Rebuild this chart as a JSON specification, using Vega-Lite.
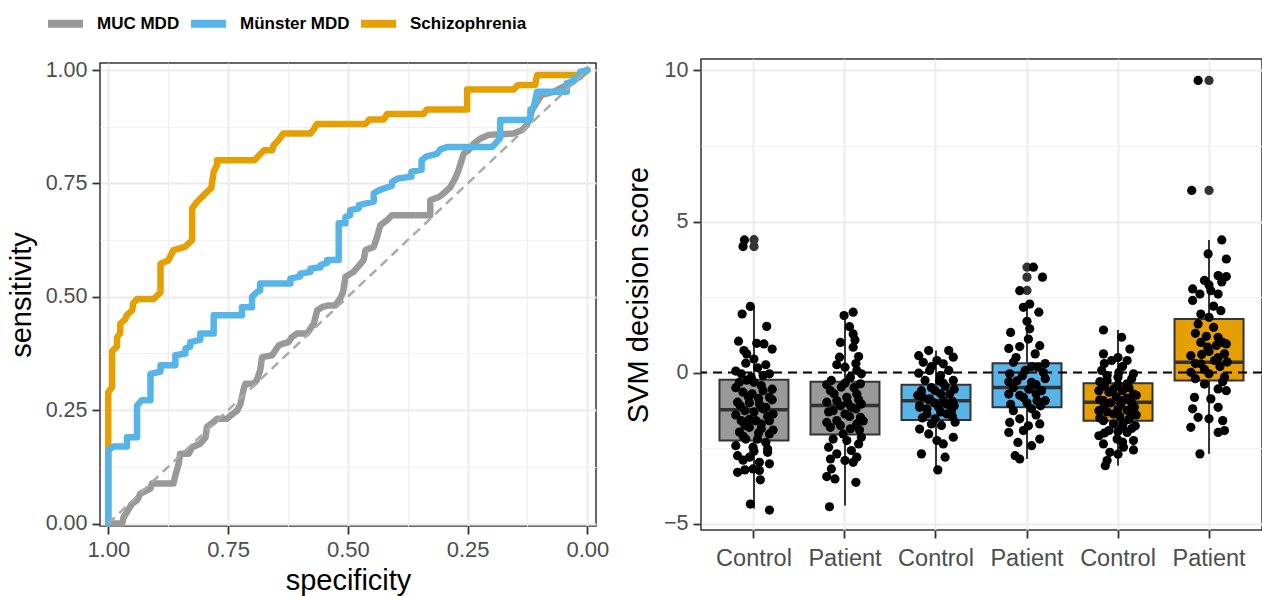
{
  "$schema": "https://vega.github.io/schema/vega-lite/v6.json",
  "background": "white",
  "padding": {"left": 6, "top": 2, "right": 0, "bottom": 0},
  "config": {
    "font": "Liberation Sans",
    "view": {"stroke": "#333333", "strokeWidth": 1.5},
    "axis": {
      "domain": false, "tickColor": "#333333", "tickWidth": 1.8, "tickSize": 8,
      "labelColor": "#4D4D4D", "labelFontSize": 21.5, "labelFont": "Liberation Sans",
      "titleFont": "Liberation Sans", "titleFontSize": 29, "titleFontWeight": "normal",
      "titleColor": "#000000", "gridColor": "#EBEBEB", "gridWidth": 1.8, "labelPadding": 5
    }
  },
  "spacing": 105,
  "bounds": "flush",
  "center": true,
  "datasets": {
    "roc": [
      {"dataset": "MUC MDD", "specificity": 1.0, "sensitivity": 0},
      {"dataset": "MUC MDD", "specificity": 0.971, "sensitivity": 0},
      {"dataset": "MUC MDD", "specificity": 0.968, "sensitivity": 0.014},
      {"dataset": "MUC MDD", "specificity": 0.961, "sensitivity": 0.025},
      {"dataset": "MUC MDD", "specificity": 0.951, "sensitivity": 0.043},
      {"dataset": "MUC MDD", "specificity": 0.94, "sensitivity": 0.051},
      {"dataset": "MUC MDD", "specificity": 0.933, "sensitivity": 0.066},
      {"dataset": "MUC MDD", "specificity": 0.912, "sensitivity": 0.077},
      {"dataset": "MUC MDD", "specificity": 0.909, "sensitivity": 0.088},
      {"dataset": "MUC MDD", "specificity": 0.864, "sensitivity": 0.088},
      {"dataset": "MUC MDD", "specificity": 0.86, "sensitivity": 0.106},
      {"dataset": "MUC MDD", "specificity": 0.853, "sensitivity": 0.132},
      {"dataset": "MUC MDD", "specificity": 0.85, "sensitivity": 0.154},
      {"dataset": "MUC MDD", "specificity": 0.832, "sensitivity": 0.154},
      {"dataset": "MUC MDD", "specificity": 0.825, "sensitivity": 0.168},
      {"dataset": "MUC MDD", "specificity": 0.808, "sensitivity": 0.176},
      {"dataset": "MUC MDD", "specificity": 0.797, "sensitivity": 0.19},
      {"dataset": "MUC MDD", "specificity": 0.794, "sensitivity": 0.213},
      {"dataset": "MUC MDD", "specificity": 0.78, "sensitivity": 0.224},
      {"dataset": "MUC MDD", "specificity": 0.773, "sensitivity": 0.231},
      {"dataset": "MUC MDD", "specificity": 0.752, "sensitivity": 0.231},
      {"dataset": "MUC MDD", "specificity": 0.745, "sensitivity": 0.238},
      {"dataset": "MUC MDD", "specificity": 0.731, "sensitivity": 0.249},
      {"dataset": "MUC MDD", "specificity": 0.724, "sensitivity": 0.264},
      {"dataset": "MUC MDD", "specificity": 0.718, "sensitivity": 0.294},
      {"dataset": "MUC MDD", "specificity": 0.714, "sensitivity": 0.308},
      {"dataset": "MUC MDD", "specificity": 0.697, "sensitivity": 0.308},
      {"dataset": "MUC MDD", "specificity": 0.69, "sensitivity": 0.316},
      {"dataset": "MUC MDD", "specificity": 0.683, "sensitivity": 0.338},
      {"dataset": "MUC MDD", "specificity": 0.679, "sensitivity": 0.367},
      {"dataset": "MUC MDD", "specificity": 0.658, "sensitivity": 0.371},
      {"dataset": "MUC MDD", "specificity": 0.651, "sensitivity": 0.382},
      {"dataset": "MUC MDD", "specificity": 0.644, "sensitivity": 0.393},
      {"dataset": "MUC MDD", "specificity": 0.634, "sensitivity": 0.397},
      {"dataset": "MUC MDD", "specificity": 0.624, "sensitivity": 0.4},
      {"dataset": "MUC MDD", "specificity": 0.617, "sensitivity": 0.411},
      {"dataset": "MUC MDD", "specificity": 0.606, "sensitivity": 0.419},
      {"dataset": "MUC MDD", "specificity": 0.585, "sensitivity": 0.419},
      {"dataset": "MUC MDD", "specificity": 0.578, "sensitivity": 0.43},
      {"dataset": "MUC MDD", "specificity": 0.571, "sensitivity": 0.441},
      {"dataset": "MUC MDD", "specificity": 0.564, "sensitivity": 0.47},
      {"dataset": "MUC MDD", "specificity": 0.554, "sensitivity": 0.477},
      {"dataset": "MUC MDD", "specificity": 0.54, "sensitivity": 0.481},
      {"dataset": "MUC MDD", "specificity": 0.526, "sensitivity": 0.481},
      {"dataset": "MUC MDD", "specificity": 0.516, "sensitivity": 0.496},
      {"dataset": "MUC MDD", "specificity": 0.51, "sensitivity": 0.51},
      {"dataset": "MUC MDD", "specificity": 0.505, "sensitivity": 0.544},
      {"dataset": "MUC MDD", "specificity": 0.488, "sensitivity": 0.555},
      {"dataset": "MUC MDD", "specificity": 0.467, "sensitivity": 0.581},
      {"dataset": "MUC MDD", "specificity": 0.463, "sensitivity": 0.603},
      {"dataset": "MUC MDD", "specificity": 0.446, "sensitivity": 0.61},
      {"dataset": "MUC MDD", "specificity": 0.439, "sensitivity": 0.632},
      {"dataset": "MUC MDD", "specificity": 0.432, "sensitivity": 0.658},
      {"dataset": "MUC MDD", "specificity": 0.418, "sensitivity": 0.669},
      {"dataset": "MUC MDD", "specificity": 0.408, "sensitivity": 0.68},
      {"dataset": "MUC MDD", "specificity": 0.328, "sensitivity": 0.68},
      {"dataset": "MUC MDD", "specificity": 0.328, "sensitivity": 0.713},
      {"dataset": "MUC MDD", "specificity": 0.31, "sensitivity": 0.72},
      {"dataset": "MUC MDD", "specificity": 0.3, "sensitivity": 0.728},
      {"dataset": "MUC MDD", "specificity": 0.286, "sensitivity": 0.742},
      {"dataset": "MUC MDD", "specificity": 0.276, "sensitivity": 0.761},
      {"dataset": "MUC MDD", "specificity": 0.269, "sensitivity": 0.779},
      {"dataset": "MUC MDD", "specificity": 0.258, "sensitivity": 0.816},
      {"dataset": "MUC MDD", "specificity": 0.248, "sensitivity": 0.823},
      {"dataset": "MUC MDD", "specificity": 0.237, "sensitivity": 0.838},
      {"dataset": "MUC MDD", "specificity": 0.223, "sensitivity": 0.849},
      {"dataset": "MUC MDD", "specificity": 0.206, "sensitivity": 0.857},
      {"dataset": "MUC MDD", "specificity": 0.154, "sensitivity": 0.86},
      {"dataset": "MUC MDD", "specificity": 0.136, "sensitivity": 0.868},
      {"dataset": "MUC MDD", "specificity": 0.126, "sensitivity": 0.879},
      {"dataset": "MUC MDD", "specificity": 0.115, "sensitivity": 0.912},
      {"dataset": "MUC MDD", "specificity": 0.105, "sensitivity": 0.93},
      {"dataset": "MUC MDD", "specificity": 0.095, "sensitivity": 0.945},
      {"dataset": "MUC MDD", "specificity": 0.07, "sensitivity": 0.952},
      {"dataset": "MUC MDD", "specificity": 0.056, "sensitivity": 0.96},
      {"dataset": "MUC MDD", "specificity": 0.035, "sensitivity": 0.971},
      {"dataset": "MUC MDD", "specificity": 0.021, "sensitivity": 0.982},
      {"dataset": "MUC MDD", "specificity": 0.004, "sensitivity": 0.996},
      {"dataset": "MUC MDD", "specificity": 0.0, "sensitivity": 1.0},
      {"dataset": "Münster MDD", "specificity": 1.0, "sensitivity": 0},
      {"dataset": "Münster MDD", "specificity": 1.0, "sensitivity": 0.161},
      {"dataset": "Münster MDD", "specificity": 0.989, "sensitivity": 0.17},
      {"dataset": "Münster MDD", "specificity": 0.961, "sensitivity": 0.17},
      {"dataset": "Münster MDD", "specificity": 0.961, "sensitivity": 0.19},
      {"dataset": "Münster MDD", "specificity": 0.94, "sensitivity": 0.19},
      {"dataset": "Münster MDD", "specificity": 0.94, "sensitivity": 0.26},
      {"dataset": "Münster MDD", "specificity": 0.93, "sensitivity": 0.272},
      {"dataset": "Münster MDD", "specificity": 0.912, "sensitivity": 0.272},
      {"dataset": "Münster MDD", "specificity": 0.912, "sensitivity": 0.33},
      {"dataset": "Münster MDD", "specificity": 0.891, "sensitivity": 0.335},
      {"dataset": "Münster MDD", "specificity": 0.891, "sensitivity": 0.349},
      {"dataset": "Münster MDD", "specificity": 0.86, "sensitivity": 0.349},
      {"dataset": "Münster MDD", "specificity": 0.86, "sensitivity": 0.371},
      {"dataset": "Münster MDD", "specificity": 0.839, "sensitivity": 0.375},
      {"dataset": "Münster MDD", "specificity": 0.839, "sensitivity": 0.386},
      {"dataset": "Münster MDD", "specificity": 0.829, "sensitivity": 0.39},
      {"dataset": "Münster MDD", "specificity": 0.829, "sensitivity": 0.4},
      {"dataset": "Münster MDD", "specificity": 0.808, "sensitivity": 0.405},
      {"dataset": "Münster MDD", "specificity": 0.808, "sensitivity": 0.419},
      {"dataset": "Münster MDD", "specificity": 0.78, "sensitivity": 0.419},
      {"dataset": "Münster MDD", "specificity": 0.78, "sensitivity": 0.459},
      {"dataset": "Münster MDD", "specificity": 0.721, "sensitivity": 0.459},
      {"dataset": "Münster MDD", "specificity": 0.721, "sensitivity": 0.477},
      {"dataset": "Münster MDD", "specificity": 0.7, "sensitivity": 0.477},
      {"dataset": "Münster MDD", "specificity": 0.7, "sensitivity": 0.5},
      {"dataset": "Münster MDD", "specificity": 0.69, "sensitivity": 0.51},
      {"dataset": "Münster MDD", "specificity": 0.683, "sensitivity": 0.514},
      {"dataset": "Münster MDD", "specificity": 0.683, "sensitivity": 0.529},
      {"dataset": "Münster MDD", "specificity": 0.62, "sensitivity": 0.529},
      {"dataset": "Münster MDD", "specificity": 0.62, "sensitivity": 0.54},
      {"dataset": "Münster MDD", "specificity": 0.599, "sensitivity": 0.545},
      {"dataset": "Münster MDD", "specificity": 0.599, "sensitivity": 0.551},
      {"dataset": "Münster MDD", "specificity": 0.578, "sensitivity": 0.555},
      {"dataset": "Münster MDD", "specificity": 0.578, "sensitivity": 0.562},
      {"dataset": "Münster MDD", "specificity": 0.557, "sensitivity": 0.565},
      {"dataset": "Münster MDD", "specificity": 0.557, "sensitivity": 0.57},
      {"dataset": "Münster MDD", "specificity": 0.543, "sensitivity": 0.575},
      {"dataset": "Münster MDD", "specificity": 0.543, "sensitivity": 0.581},
      {"dataset": "Münster MDD", "specificity": 0.519, "sensitivity": 0.581},
      {"dataset": "Münster MDD", "specificity": 0.519, "sensitivity": 0.662},
      {"dataset": "Münster MDD", "specificity": 0.505, "sensitivity": 0.662},
      {"dataset": "Münster MDD", "specificity": 0.505, "sensitivity": 0.676},
      {"dataset": "Münster MDD", "specificity": 0.495, "sensitivity": 0.68},
      {"dataset": "Münster MDD", "specificity": 0.495, "sensitivity": 0.691},
      {"dataset": "Münster MDD", "specificity": 0.477, "sensitivity": 0.695},
      {"dataset": "Münster MDD", "specificity": 0.477, "sensitivity": 0.702},
      {"dataset": "Münster MDD", "specificity": 0.446, "sensitivity": 0.71},
      {"dataset": "Münster MDD", "specificity": 0.446, "sensitivity": 0.728},
      {"dataset": "Münster MDD", "specificity": 0.435, "sensitivity": 0.735},
      {"dataset": "Münster MDD", "specificity": 0.408, "sensitivity": 0.745},
      {"dataset": "Münster MDD", "specificity": 0.408, "sensitivity": 0.753},
      {"dataset": "Münster MDD", "specificity": 0.395, "sensitivity": 0.761},
      {"dataset": "Münster MDD", "specificity": 0.367, "sensitivity": 0.765},
      {"dataset": "Münster MDD", "specificity": 0.367, "sensitivity": 0.776},
      {"dataset": "Münster MDD", "specificity": 0.346, "sensitivity": 0.78},
      {"dataset": "Münster MDD", "specificity": 0.346, "sensitivity": 0.801},
      {"dataset": "Münster MDD", "specificity": 0.337, "sensitivity": 0.809},
      {"dataset": "Münster MDD", "specificity": 0.314, "sensitivity": 0.815},
      {"dataset": "Münster MDD", "specificity": 0.307, "sensitivity": 0.825},
      {"dataset": "Münster MDD", "specificity": 0.293, "sensitivity": 0.83},
      {"dataset": "Münster MDD", "specificity": 0.199, "sensitivity": 0.83},
      {"dataset": "Münster MDD", "specificity": 0.182, "sensitivity": 0.85},
      {"dataset": "Münster MDD", "specificity": 0.182, "sensitivity": 0.89},
      {"dataset": "Münster MDD", "specificity": 0.119, "sensitivity": 0.89},
      {"dataset": "Münster MDD", "specificity": 0.119, "sensitivity": 0.912},
      {"dataset": "Münster MDD", "specificity": 0.112, "sensitivity": 0.919},
      {"dataset": "Münster MDD", "specificity": 0.105, "sensitivity": 0.952},
      {"dataset": "Münster MDD", "specificity": 0.043, "sensitivity": 0.952},
      {"dataset": "Münster MDD", "specificity": 0.043, "sensitivity": 0.971},
      {"dataset": "Münster MDD", "specificity": 0.029, "sensitivity": 0.975},
      {"dataset": "Münster MDD", "specificity": 0.029, "sensitivity": 0.982},
      {"dataset": "Münster MDD", "specificity": 0.015, "sensitivity": 0.985},
      {"dataset": "Münster MDD", "specificity": 0.015, "sensitivity": 0.996},
      {"dataset": "Münster MDD", "specificity": 0.0, "sensitivity": 1.0},
      {"dataset": "Schizophrenia", "specificity": 1.0, "sensitivity": 0},
      {"dataset": "Schizophrenia", "specificity": 1.0, "sensitivity": 0.29},
      {"dataset": "Schizophrenia", "specificity": 0.992, "sensitivity": 0.3},
      {"dataset": "Schizophrenia", "specificity": 0.992, "sensitivity": 0.38},
      {"dataset": "Schizophrenia", "specificity": 0.982, "sensitivity": 0.39},
      {"dataset": "Schizophrenia", "specificity": 0.982, "sensitivity": 0.41},
      {"dataset": "Schizophrenia", "specificity": 0.975, "sensitivity": 0.42},
      {"dataset": "Schizophrenia", "specificity": 0.975, "sensitivity": 0.44},
      {"dataset": "Schizophrenia", "specificity": 0.965, "sensitivity": 0.45},
      {"dataset": "Schizophrenia", "specificity": 0.961, "sensitivity": 0.46},
      {"dataset": "Schizophrenia", "specificity": 0.95, "sensitivity": 0.47},
      {"dataset": "Schizophrenia", "specificity": 0.948, "sensitivity": 0.486},
      {"dataset": "Schizophrenia", "specificity": 0.94, "sensitivity": 0.495},
      {"dataset": "Schizophrenia", "specificity": 0.905, "sensitivity": 0.495},
      {"dataset": "Schizophrenia", "specificity": 0.891, "sensitivity": 0.51},
      {"dataset": "Schizophrenia", "specificity": 0.891, "sensitivity": 0.573},
      {"dataset": "Schizophrenia", "specificity": 0.875, "sensitivity": 0.58},
      {"dataset": "Schizophrenia", "specificity": 0.864, "sensitivity": 0.603},
      {"dataset": "Schizophrenia", "specificity": 0.84, "sensitivity": 0.61},
      {"dataset": "Schizophrenia", "specificity": 0.825, "sensitivity": 0.625},
      {"dataset": "Schizophrenia", "specificity": 0.825, "sensitivity": 0.695},
      {"dataset": "Schizophrenia", "specificity": 0.815, "sensitivity": 0.709},
      {"dataset": "Schizophrenia", "specificity": 0.801, "sensitivity": 0.724},
      {"dataset": "Schizophrenia", "specificity": 0.785, "sensitivity": 0.74},
      {"dataset": "Schizophrenia", "specificity": 0.78, "sensitivity": 0.776},
      {"dataset": "Schizophrenia", "specificity": 0.773, "sensitivity": 0.79},
      {"dataset": "Schizophrenia", "specificity": 0.773, "sensitivity": 0.801},
      {"dataset": "Schizophrenia", "specificity": 0.695, "sensitivity": 0.801},
      {"dataset": "Schizophrenia", "specificity": 0.685, "sensitivity": 0.812},
      {"dataset": "Schizophrenia", "specificity": 0.675, "sensitivity": 0.823},
      {"dataset": "Schizophrenia", "specificity": 0.658, "sensitivity": 0.823},
      {"dataset": "Schizophrenia", "specificity": 0.655, "sensitivity": 0.834},
      {"dataset": "Schizophrenia", "specificity": 0.645, "sensitivity": 0.845},
      {"dataset": "Schizophrenia", "specificity": 0.635, "sensitivity": 0.86},
      {"dataset": "Schizophrenia", "specificity": 0.578, "sensitivity": 0.86},
      {"dataset": "Schizophrenia", "specificity": 0.57, "sensitivity": 0.871},
      {"dataset": "Schizophrenia", "specificity": 0.565, "sensitivity": 0.881},
      {"dataset": "Schizophrenia", "specificity": 0.463, "sensitivity": 0.881},
      {"dataset": "Schizophrenia", "specificity": 0.455, "sensitivity": 0.891},
      {"dataset": "Schizophrenia", "specificity": 0.425, "sensitivity": 0.891},
      {"dataset": "Schizophrenia", "specificity": 0.418, "sensitivity": 0.903},
      {"dataset": "Schizophrenia", "specificity": 0.342, "sensitivity": 0.903},
      {"dataset": "Schizophrenia", "specificity": 0.335, "sensitivity": 0.913},
      {"dataset": "Schizophrenia", "specificity": 0.251, "sensitivity": 0.913},
      {"dataset": "Schizophrenia", "specificity": 0.251, "sensitivity": 0.957},
      {"dataset": "Schizophrenia", "specificity": 0.154, "sensitivity": 0.957},
      {"dataset": "Schizophrenia", "specificity": 0.145, "sensitivity": 0.967},
      {"dataset": "Schizophrenia", "specificity": 0.109, "sensitivity": 0.967},
      {"dataset": "Schizophrenia", "specificity": 0.105, "sensitivity": 0.989},
      {"dataset": "Schizophrenia", "specificity": 0.015, "sensitivity": 0.989},
      {"dataset": "Schizophrenia", "specificity": 0.0, "sensitivity": 1.0}
    ],
    "boxes": [
      {"g": "MUC MDD|Control", "dataset": "MUC MDD", "lo": -4.5, "q1": -2.25, "med": -1.23, "q3": -0.24, "hi": 2.16},
      {"g": "MUC MDD|Patient", "dataset": "MUC MDD", "lo": -4.4, "q1": -2.05, "med": -1.09, "q3": -0.3, "hi": 2.0},
      {"g": "Münster MDD|Control", "dataset": "Münster MDD", "lo": -3.24, "q1": -1.57, "med": -0.93, "q3": -0.4, "hi": 0.73},
      {"g": "Münster MDD|Patient", "dataset": "Münster MDD", "lo": -2.86, "q1": -1.15, "med": -0.49, "q3": 0.31, "hi": 2.3},
      {"g": "Schizophrenia|Control", "dataset": "Schizophrenia", "lo": -3.08, "q1": -1.59, "med": -0.98, "q3": -0.35, "hi": 1.41},
      {"g": "Schizophrenia|Patient", "dataset": "Schizophrenia", "lo": -2.69, "q1": -0.26, "med": 0.34, "q3": 1.77, "hi": 4.39}
    ],
    "outliers": [
      {"g": "MUC MDD|Control", "v": 4.4},
      {"g": "MUC MDD|Control", "v": 4.17},
      {"g": "Münster MDD|Patient", "v": 3.49},
      {"g": "Münster MDD|Patient", "v": 3.16},
      {"g": "Münster MDD|Patient", "v": 2.72},
      {"g": "Schizophrenia|Patient", "v": 9.67},
      {"g": "Schizophrenia|Patient", "v": 6.03}
    ],
    "points": [
      {"g": "MUC MDD|Control", "v": 4.39, "j": -0.105},
      {"g": "MUC MDD|Control", "v": 4.17, "j": -0.12},
      {"g": "MUC MDD|Control", "v": 2.19, "j": -0.04},
      {"g": "MUC MDD|Control", "v": 1.94, "j": -0.13},
      {"g": "MUC MDD|Control", "v": 1.53, "j": 0.14},
      {"g": "MUC MDD|Control", "v": 1.04, "j": -0.17},
      {"g": "MUC MDD|Control", "v": 0.97, "j": 0.03},
      {"g": "MUC MDD|Control", "v": 0.95, "j": 0.11},
      {"g": "MUC MDD|Control", "v": 0.78, "j": 0.2},
      {"g": "MUC MDD|Control", "v": 0.73, "j": -0.11},
      {"g": "MUC MDD|Control", "v": 0.62, "j": -0.08},
      {"g": "MUC MDD|Control", "v": 0.31, "j": -0.09},
      {"g": "MUC MDD|Control", "v": 0.26, "j": 0.13},
      {"g": "MUC MDD|Control", "v": 0.16, "j": 0.04},
      {"g": "MUC MDD|Control", "v": -0.04, "j": 0.17},
      {"g": "MUC MDD|Control", "v": -0.04, "j": -0.14},
      {"g": "MUC MDD|Control", "v": -0.15, "j": -0.03},
      {"g": "MUC MDD|Control", "v": -0.32, "j": -0.16},
      {"g": "MUC MDD|Control", "v": -0.32, "j": 0.0},
      {"g": "MUC MDD|Control", "v": -0.43, "j": 0.08},
      {"g": "MUC MDD|Control", "v": -0.65, "j": -0.12},
      {"g": "MUC MDD|Control", "v": -0.82, "j": -0.06},
      {"g": "MUC MDD|Control", "v": -0.82, "j": 0.17},
      {"g": "MUC MDD|Control", "v": -0.98, "j": -0.18},
      {"g": "MUC MDD|Control", "v": -1.04, "j": 0.06},
      {"g": "MUC MDD|Control", "v": -1.15, "j": 0.13},
      {"g": "MUC MDD|Control", "v": -1.26, "j": -0.1},
      {"g": "MUC MDD|Control", "v": -1.37, "j": 0.21},
      {"g": "MUC MDD|Control", "v": -1.59, "j": -0.14},
      {"g": "MUC MDD|Control", "v": -1.59, "j": 0.02},
      {"g": "MUC MDD|Control", "v": -1.59, "j": 0.17},
      {"g": "MUC MDD|Control", "v": -1.81, "j": -0.05},
      {"g": "MUC MDD|Control", "v": -1.86, "j": 0.08},
      {"g": "MUC MDD|Control", "v": -1.97, "j": -0.16},
      {"g": "MUC MDD|Control", "v": -2.03, "j": 0.17},
      {"g": "MUC MDD|Control", "v": -2.2, "j": -0.09},
      {"g": "MUC MDD|Control", "v": -2.2, "j": 0.04},
      {"g": "MUC MDD|Control", "v": -2.31, "j": 0.13},
      {"g": "MUC MDD|Control", "v": -2.42, "j": -0.2},
      {"g": "MUC MDD|Control", "v": -2.47, "j": -0.01},
      {"g": "MUC MDD|Control", "v": -2.53, "j": 0.15},
      {"g": "MUC MDD|Control", "v": -2.75, "j": -0.18},
      {"g": "MUC MDD|Control", "v": -2.8, "j": -0.05},
      {"g": "MUC MDD|Control", "v": -2.64, "j": 0.15},
      {"g": "MUC MDD|Control", "v": -2.97, "j": 0.06},
      {"g": "MUC MDD|Control", "v": -3.02, "j": 0.17},
      {"g": "MUC MDD|Control", "v": -3.3, "j": -0.18},
      {"g": "MUC MDD|Control", "v": -3.22, "j": -0.1},
      {"g": "MUC MDD|Control", "v": -3.19, "j": -0.01},
      {"g": "MUC MDD|Control", "v": -3.24, "j": 0.06},
      {"g": "MUC MDD|Control", "v": -3.55, "j": 0.07},
      {"g": "MUC MDD|Control", "v": -4.35, "j": -0.04},
      {"g": "MUC MDD|Control", "v": -4.55, "j": 0.17},
      {"g": "MUC MDD|Control", "v": -0.5, "j": -0.2},
      {"g": "MUC MDD|Control", "v": -0.6, "j": 0.1},
      {"g": "MUC MDD|Control", "v": -0.7, "j": -0.02},
      {"g": "MUC MDD|Control", "v": -0.9, "j": 0.2},
      {"g": "MUC MDD|Control", "v": -1.1, "j": -0.15},
      {"g": "MUC MDD|Control", "v": -1.2, "j": 0.1},
      {"g": "MUC MDD|Control", "v": -1.3, "j": 0.0},
      {"g": "MUC MDD|Control", "v": -1.4, "j": -0.2},
      {"g": "MUC MDD|Control", "v": -1.45, "j": 0.15},
      {"g": "MUC MDD|Control", "v": -1.7, "j": 0.08},
      {"g": "MUC MDD|Control", "v": -1.75, "j": -0.1},
      {"g": "MUC MDD|Control", "v": -2.0, "j": 0.05},
      {"g": "MUC MDD|Control", "v": -2.1, "j": -0.12},
      {"g": "MUC MDD|Control", "v": -0.25, "j": -0.08},
      {"g": "MUC MDD|Control", "v": -0.1, "j": 0.1},
      {"g": "MUC MDD|Control", "v": 0.45, "j": 0.0},
      {"g": "MUC MDD|Control", "v": 0.05, "j": -0.2},
      {"g": "MUC MDD|Control", "v": -0.55, "j": 0.2},
      {"g": "MUC MDD|Control", "v": -1.0, "j": -0.05},
      {"g": "MUC MDD|Control", "v": -1.9, "j": 0.21},
      {"g": "MUC MDD|Control", "v": -2.6, "j": 0.0},
      {"g": "MUC MDD|Control", "v": -2.9, "j": -0.12},
      {"g": "MUC MDD|Control", "v": -0.85, "j": 0.05},
      {"g": "MUC MDD|Control", "v": -1.55, "j": -0.05},
      {"g": "MUC MDD|Patient", "v": 2.0, "j": 0.09},
      {"g": "MUC MDD|Patient", "v": 1.89, "j": -0.01},
      {"g": "MUC MDD|Patient", "v": 1.52, "j": 0.05},
      {"g": "MUC MDD|Patient", "v": 1.28, "j": 0.09},
      {"g": "MUC MDD|Patient", "v": 1.08, "j": 0.11},
      {"g": "MUC MDD|Patient", "v": 1.0, "j": -0.05},
      {"g": "MUC MDD|Patient", "v": 0.84, "j": 0.09},
      {"g": "MUC MDD|Patient", "v": 0.53, "j": 0.15},
      {"g": "MUC MDD|Patient", "v": 0.51, "j": -0.06},
      {"g": "MUC MDD|Patient", "v": 0.26, "j": -0.09},
      {"g": "MUC MDD|Patient", "v": 0.18, "j": 0.0},
      {"g": "MUC MDD|Patient", "v": 0.07, "j": 0.13},
      {"g": "MUC MDD|Patient", "v": -0.04, "j": 0.18},
      {"g": "MUC MDD|Patient", "v": -0.15, "j": 0.06},
      {"g": "MUC MDD|Patient", "v": -0.26, "j": -0.15},
      {"g": "MUC MDD|Patient", "v": -0.37, "j": 0.17},
      {"g": "MUC MDD|Patient", "v": -0.48, "j": -0.04},
      {"g": "MUC MDD|Patient", "v": -0.6, "j": -0.16},
      {"g": "MUC MDD|Patient", "v": -0.71, "j": 0.13},
      {"g": "MUC MDD|Patient", "v": -0.82, "j": 0.02},
      {"g": "MUC MDD|Patient", "v": -0.93, "j": -0.09},
      {"g": "MUC MDD|Patient", "v": -0.98, "j": -0.2},
      {"g": "MUC MDD|Patient", "v": -1.04, "j": 0.18},
      {"g": "MUC MDD|Patient", "v": -1.15, "j": 0.07},
      {"g": "MUC MDD|Patient", "v": -1.26, "j": -0.13},
      {"g": "MUC MDD|Patient", "v": -1.37, "j": 0.0},
      {"g": "MUC MDD|Patient", "v": -1.48, "j": 0.17},
      {"g": "MUC MDD|Patient", "v": -1.59, "j": -0.09},
      {"g": "MUC MDD|Patient", "v": -1.7, "j": 0.13},
      {"g": "MUC MDD|Patient", "v": -1.81, "j": -0.16},
      {"g": "MUC MDD|Patient", "v": -1.86, "j": 0.06},
      {"g": "MUC MDD|Patient", "v": -2.03, "j": -0.02},
      {"g": "MUC MDD|Patient", "v": -2.14, "j": 0.18},
      {"g": "MUC MDD|Patient", "v": -2.2, "j": -0.13},
      {"g": "MUC MDD|Patient", "v": -2.25, "j": 0.02},
      {"g": "MUC MDD|Patient", "v": -2.36, "j": 0.15},
      {"g": "MUC MDD|Patient", "v": -2.47, "j": -0.18},
      {"g": "MUC MDD|Patient", "v": -2.58, "j": 0.07},
      {"g": "MUC MDD|Patient", "v": -2.69, "j": -0.09},
      {"g": "MUC MDD|Patient", "v": -2.8, "j": 0.13},
      {"g": "MUC MDD|Patient", "v": -2.86, "j": -0.16},
      {"g": "MUC MDD|Patient", "v": -2.91, "j": 0.0},
      {"g": "MUC MDD|Patient", "v": -2.97, "j": 0.09},
      {"g": "MUC MDD|Patient", "v": -3.19, "j": -0.15},
      {"g": "MUC MDD|Patient", "v": -3.52, "j": -0.11},
      {"g": "MUC MDD|Patient", "v": -3.44, "j": -0.2},
      {"g": "MUC MDD|Patient", "v": -3.63, "j": 0.12},
      {"g": "MUC MDD|Patient", "v": -4.44, "j": -0.17},
      {"g": "MUC MDD|Patient", "v": -0.5, "j": 0.1},
      {"g": "MUC MDD|Patient", "v": -0.7, "j": -0.12},
      {"g": "MUC MDD|Patient", "v": -0.9, "j": 0.15},
      {"g": "MUC MDD|Patient", "v": -1.1, "j": -0.05},
      {"g": "MUC MDD|Patient", "v": -1.2, "j": 0.12},
      {"g": "MUC MDD|Patient", "v": -1.3, "j": -0.18},
      {"g": "MUC MDD|Patient", "v": -1.45, "j": 0.05},
      {"g": "MUC MDD|Patient", "v": -1.6, "j": 0.2},
      {"g": "MUC MDD|Patient", "v": -1.75, "j": -0.05},
      {"g": "MUC MDD|Patient", "v": -1.9, "j": 0.16},
      {"g": "MUC MDD|Patient", "v": -0.35, "j": 0.0},
      {"g": "MUC MDD|Patient", "v": -1.0, "j": 0.03},
      {"g": "MUC MDD|Patient", "v": -0.4, "j": -0.2},
      {"g": "MUC MDD|Patient", "v": 0.3, "j": 0.12},
      {"g": "MUC MDD|Patient", "v": -1.65, "j": -0.2},
      {"g": "Münster MDD|Control", "v": 0.73, "j": -0.08},
      {"g": "Münster MDD|Control", "v": 0.73, "j": 0.14},
      {"g": "Münster MDD|Control", "v": 0.56, "j": -0.19},
      {"g": "Münster MDD|Control", "v": 0.51, "j": 0.19},
      {"g": "Münster MDD|Control", "v": 0.34, "j": -0.14},
      {"g": "Münster MDD|Control", "v": 0.4, "j": 0.01},
      {"g": "Münster MDD|Control", "v": 0.29, "j": 0.08},
      {"g": "Münster MDD|Control", "v": -0.02, "j": -0.19},
      {"g": "Münster MDD|Control", "v": 0.07, "j": -0.07},
      {"g": "Münster MDD|Control", "v": 0.07, "j": 0.14},
      {"g": "Münster MDD|Control", "v": -0.26, "j": -0.12},
      {"g": "Münster MDD|Control", "v": -0.26, "j": 0.04},
      {"g": "Münster MDD|Control", "v": -0.26, "j": 0.19},
      {"g": "Münster MDD|Control", "v": -0.6, "j": -0.16},
      {"g": "Münster MDD|Control", "v": -0.6, "j": -0.01},
      {"g": "Münster MDD|Control", "v": -0.71, "j": 0.15},
      {"g": "Münster MDD|Control", "v": -0.87, "j": -0.07},
      {"g": "Münster MDD|Control", "v": -0.93, "j": 0.08},
      {"g": "Münster MDD|Control", "v": -1.09, "j": -0.18},
      {"g": "Münster MDD|Control", "v": -1.15, "j": 0.03},
      {"g": "Münster MDD|Control", "v": -1.26, "j": 0.17},
      {"g": "Münster MDD|Control", "v": -1.37, "j": -0.1},
      {"g": "Münster MDD|Control", "v": -1.37, "j": 0.12},
      {"g": "Münster MDD|Control", "v": -1.53, "j": -0.01},
      {"g": "Münster MDD|Control", "v": -1.87, "j": -0.18},
      {"g": "Münster MDD|Control", "v": -1.75, "j": 0.06},
      {"g": "Münster MDD|Control", "v": -1.64, "j": 0.21},
      {"g": "Münster MDD|Control", "v": -2.03, "j": -0.08},
      {"g": "Münster MDD|Control", "v": -2.25, "j": 0.01},
      {"g": "Münster MDD|Control", "v": -2.36, "j": 0.08},
      {"g": "Münster MDD|Control", "v": -2.14, "j": 0.19},
      {"g": "Münster MDD|Control", "v": -2.69, "j": -0.16},
      {"g": "Münster MDD|Control", "v": -2.8, "j": 0.1},
      {"g": "Münster MDD|Control", "v": -3.22, "j": 0.02},
      {"g": "Münster MDD|Control", "v": -0.45, "j": 0.1},
      {"g": "Münster MDD|Control", "v": -0.5, "j": -0.05},
      {"g": "Münster MDD|Control", "v": -0.7, "j": 0.05},
      {"g": "Münster MDD|Control", "v": -0.8, "j": -0.15},
      {"g": "Münster MDD|Control", "v": -0.95, "j": 0.18},
      {"g": "Münster MDD|Control", "v": -1.0, "j": -0.02},
      {"g": "Münster MDD|Control", "v": -1.05, "j": 0.12},
      {"g": "Münster MDD|Control", "v": -1.2, "j": -0.1},
      {"g": "Münster MDD|Control", "v": -1.3, "j": 0.05},
      {"g": "Münster MDD|Control", "v": -1.45, "j": 0.18},
      {"g": "Münster MDD|Control", "v": -1.5, "j": -0.15},
      {"g": "Münster MDD|Control", "v": -0.55, "j": 0.2},
      {"g": "Münster MDD|Control", "v": -0.75, "j": -0.2},
      {"g": "Münster MDD|Control", "v": -1.15, "j": -0.18},
      {"g": "Münster MDD|Control", "v": -0.9, "j": -0.08},
      {"g": "Münster MDD|Control", "v": -0.35, "j": 0.08},
      {"g": "Münster MDD|Control", "v": -1.7, "j": -0.05},
      {"g": "Münster MDD|Control", "v": -1.1, "j": 0.2},
      {"g": "Münster MDD|Control", "v": 0.2, "j": -0.05},
      {"g": "Münster MDD|Control", "v": -0.1, "j": 0.05},
      {"g": "Münster MDD|Patient", "v": 3.49, "j": 0.07},
      {"g": "Münster MDD|Patient", "v": 3.16, "j": 0.17},
      {"g": "Münster MDD|Patient", "v": 2.71, "j": -0.08},
      {"g": "Münster MDD|Patient", "v": 2.16, "j": -0.04},
      {"g": "Münster MDD|Patient", "v": 2.27, "j": 0.03},
      {"g": "Münster MDD|Patient", "v": 2.0, "j": 0.13},
      {"g": "Münster MDD|Patient", "v": 1.33, "j": -0.18},
      {"g": "Münster MDD|Patient", "v": 1.45, "j": 0.03},
      {"g": "Münster MDD|Patient", "v": 0.86, "j": -0.08},
      {"g": "Münster MDD|Patient", "v": 1.11, "j": 0.015},
      {"g": "Münster MDD|Patient", "v": 0.89, "j": 0.14},
      {"g": "Münster MDD|Patient", "v": 0.62, "j": 0.09},
      {"g": "Münster MDD|Patient", "v": 0.34, "j": -0.15},
      {"g": "Münster MDD|Patient", "v": -0.04, "j": -0.19},
      {"g": "Münster MDD|Patient", "v": 0.07, "j": -0.02},
      {"g": "Münster MDD|Patient", "v": 0.18, "j": 0.12},
      {"g": "Münster MDD|Patient", "v": -0.27, "j": -0.11},
      {"g": "Münster MDD|Patient", "v": -0.32, "j": 0.05},
      {"g": "Münster MDD|Patient", "v": -0.6, "j": 0.16},
      {"g": "Münster MDD|Patient", "v": -0.71, "j": -0.2},
      {"g": "Münster MDD|Patient", "v": -0.82, "j": -0.04},
      {"g": "Münster MDD|Patient", "v": -0.93, "j": 0.11},
      {"g": "Münster MDD|Patient", "v": -0.93, "j": 0.2},
      {"g": "Münster MDD|Patient", "v": -1.26, "j": -0.15},
      {"g": "Münster MDD|Patient", "v": -1.2, "j": 0.05},
      {"g": "Münster MDD|Patient", "v": -1.53, "j": -0.08},
      {"g": "Münster MDD|Patient", "v": -1.65, "j": -0.19},
      {"g": "Münster MDD|Patient", "v": -1.76, "j": 0.015},
      {"g": "Münster MDD|Patient", "v": -1.7, "j": 0.14},
      {"g": "Münster MDD|Patient", "v": -1.98, "j": -0.2},
      {"g": "Münster MDD|Patient", "v": -1.92, "j": -0.04},
      {"g": "Münster MDD|Patient", "v": -2.2, "j": 0.14},
      {"g": "Münster MDD|Patient", "v": -2.42, "j": 0.05},
      {"g": "Münster MDD|Patient", "v": -2.31, "j": -0.1},
      {"g": "Münster MDD|Patient", "v": -2.75, "j": -0.13},
      {"g": "Münster MDD|Patient", "v": -2.86, "j": -0.08},
      {"g": "Münster MDD|Patient", "v": 0.2, "j": 0.05},
      {"g": "Münster MDD|Patient", "v": 0.0, "j": 0.18},
      {"g": "Münster MDD|Patient", "v": -0.1, "j": -0.05},
      {"g": "Münster MDD|Patient", "v": -0.4, "j": 0.1},
      {"g": "Münster MDD|Patient", "v": -0.5, "j": -0.15},
      {"g": "Münster MDD|Patient", "v": -0.55, "j": 0.02},
      {"g": "Münster MDD|Patient", "v": -0.7, "j": 0.1},
      {"g": "Münster MDD|Patient", "v": -0.75, "j": -0.08},
      {"g": "Münster MDD|Patient", "v": -1.0, "j": 0.0},
      {"g": "Münster MDD|Patient", "v": -1.05, "j": -0.18},
      {"g": "Münster MDD|Patient", "v": -1.1, "j": 0.15},
      {"g": "Münster MDD|Patient", "v": 0.5, "j": -0.12},
      {"g": "Münster MDD|Patient", "v": 0.3, "j": 0.2},
      {"g": "Münster MDD|Patient", "v": -0.2, "j": 0.2},
      {"g": "Münster MDD|Patient", "v": 1.7, "j": 0.0},
      {"g": "Münster MDD|Patient", "v": 0.8, "j": -0.2},
      {"g": "Münster MDD|Patient", "v": -1.4, "j": 0.1},
      {"g": "Münster MDD|Patient", "v": -0.3, "j": -0.2},
      {"g": "Schizophrenia|Control", "v": 1.41, "j": -0.16},
      {"g": "Schizophrenia|Control", "v": 1.17, "j": 0.04},
      {"g": "Schizophrenia|Control", "v": 0.78, "j": 0.13},
      {"g": "Schizophrenia|Control", "v": 0.62, "j": -0.16},
      {"g": "Schizophrenia|Control", "v": 0.4, "j": -0.07},
      {"g": "Schizophrenia|Control", "v": 0.4, "j": 0.1},
      {"g": "Schizophrenia|Control", "v": 0.07, "j": -0.18},
      {"g": "Schizophrenia|Control", "v": 0.01, "j": 0.01},
      {"g": "Schizophrenia|Control", "v": -0.04, "j": 0.17},
      {"g": "Schizophrenia|Control", "v": -0.26, "j": -0.12},
      {"g": "Schizophrenia|Control", "v": -0.37, "j": 0.1},
      {"g": "Schizophrenia|Control", "v": -0.6, "j": -0.21},
      {"g": "Schizophrenia|Control", "v": -0.54, "j": -0.05},
      {"g": "Schizophrenia|Control", "v": -0.71, "j": 0.17},
      {"g": "Schizophrenia|Control", "v": -0.93, "j": -0.16},
      {"g": "Schizophrenia|Control", "v": -0.93, "j": 0.04},
      {"g": "Schizophrenia|Control", "v": -1.26, "j": -0.21},
      {"g": "Schizophrenia|Control", "v": -1.37, "j": -0.05},
      {"g": "Schizophrenia|Control", "v": -1.37, "j": 0.14},
      {"g": "Schizophrenia|Control", "v": -1.59, "j": -0.16},
      {"g": "Schizophrenia|Control", "v": -1.65, "j": 0.06},
      {"g": "Schizophrenia|Control", "v": -1.76, "j": 0.19},
      {"g": "Schizophrenia|Control", "v": -1.92, "j": -0.1},
      {"g": "Schizophrenia|Control", "v": -1.98, "j": 0.1},
      {"g": "Schizophrenia|Control", "v": -2.09, "j": -0.21},
      {"g": "Schizophrenia|Control", "v": -2.2, "j": -0.01},
      {"g": "Schizophrenia|Control", "v": -2.25, "j": 0.17},
      {"g": "Schizophrenia|Control", "v": -2.36, "j": -0.16},
      {"g": "Schizophrenia|Control", "v": -2.47, "j": 0.06},
      {"g": "Schizophrenia|Control", "v": -2.64, "j": -0.09},
      {"g": "Schizophrenia|Control", "v": -2.56, "j": 0.17},
      {"g": "Schizophrenia|Control", "v": -2.91, "j": -0.12},
      {"g": "Schizophrenia|Control", "v": -3.08, "j": -0.14},
      {"g": "Schizophrenia|Control", "v": -0.4, "j": 0.0},
      {"g": "Schizophrenia|Control", "v": -0.45, "j": -0.15},
      {"g": "Schizophrenia|Control", "v": -0.5, "j": 0.12},
      {"g": "Schizophrenia|Control", "v": -0.6, "j": 0.05},
      {"g": "Schizophrenia|Control", "v": -0.65, "j": -0.1},
      {"g": "Schizophrenia|Control", "v": -0.75, "j": 0.2},
      {"g": "Schizophrenia|Control", "v": -0.8, "j": -0.02},
      {"g": "Schizophrenia|Control", "v": -0.85, "j": 0.1},
      {"g": "Schizophrenia|Control", "v": -0.9, "j": -0.2},
      {"g": "Schizophrenia|Control", "v": -1.0, "j": 0.15},
      {"g": "Schizophrenia|Control", "v": -1.0, "j": -0.08},
      {"g": "Schizophrenia|Control", "v": -1.05, "j": 0.03},
      {"g": "Schizophrenia|Control", "v": -1.1, "j": -0.15},
      {"g": "Schizophrenia|Control", "v": -1.15, "j": 0.18},
      {"g": "Schizophrenia|Control", "v": -1.2, "j": 0.0},
      {"g": "Schizophrenia|Control", "v": -1.25, "j": 0.1},
      {"g": "Schizophrenia|Control", "v": -1.3, "j": -0.12},
      {"g": "Schizophrenia|Control", "v": -1.4, "j": 0.2},
      {"g": "Schizophrenia|Control", "v": -1.45, "j": 0.02},
      {"g": "Schizophrenia|Control", "v": -1.5, "j": -0.2},
      {"g": "Schizophrenia|Control", "v": -1.55, "j": 0.12},
      {"g": "Schizophrenia|Control", "v": -1.7, "j": -0.05},
      {"g": "Schizophrenia|Control", "v": -1.8, "j": 0.05},
      {"g": "Schizophrenia|Control", "v": -0.2, "j": 0.15},
      {"g": "Schizophrenia|Control", "v": -0.1, "j": -0.12},
      {"g": "Schizophrenia|Control", "v": 0.2, "j": 0.05},
      {"g": "Schizophrenia|Control", "v": 0.3, "j": -0.15},
      {"g": "Schizophrenia|Control", "v": -0.15, "j": 0.0},
      {"g": "Schizophrenia|Control", "v": -2.0, "j": -0.15},
      {"g": "Schizophrenia|Control", "v": -1.85, "j": 0.15},
      {"g": "Schizophrenia|Control", "v": -2.3, "j": 0.05},
      {"g": "Schizophrenia|Control", "v": 0.5, "j": 0.0},
      {"g": "Schizophrenia|Control", "v": -0.3, "j": -0.2},
      {"g": "Schizophrenia|Control", "v": -1.95, "j": 0.0},
      {"g": "Schizophrenia|Control", "v": -2.7, "j": 0.0},
      {"g": "Schizophrenia|Patient", "v": 9.67, "j": -0.12},
      {"g": "Schizophrenia|Patient", "v": 6.03, "j": -0.19},
      {"g": "Schizophrenia|Patient", "v": 4.39, "j": 0.14},
      {"g": "Schizophrenia|Patient", "v": 3.93, "j": -0.01},
      {"g": "Schizophrenia|Patient", "v": 3.76, "j": 0.19},
      {"g": "Schizophrenia|Patient", "v": 3.21, "j": 0.1},
      {"g": "Schizophrenia|Patient", "v": 3.18, "j": 0.19},
      {"g": "Schizophrenia|Patient", "v": 3.05, "j": -0.05},
      {"g": "Schizophrenia|Patient", "v": 2.77, "j": -0.18},
      {"g": "Schizophrenia|Patient", "v": 2.71, "j": 0.02},
      {"g": "Schizophrenia|Patient", "v": 2.6, "j": 0.1},
      {"g": "Schizophrenia|Patient", "v": 2.39, "j": -0.18},
      {"g": "Schizophrenia|Patient", "v": 2.05, "j": 0.13},
      {"g": "Schizophrenia|Patient", "v": 1.94, "j": -0.09},
      {"g": "Schizophrenia|Patient", "v": 1.83, "j": 0.0},
      {"g": "Schizophrenia|Patient", "v": 1.61, "j": -0.12},
      {"g": "Schizophrenia|Patient", "v": 1.17, "j": 0.1},
      {"g": "Schizophrenia|Patient", "v": 1.0, "j": -0.09},
      {"g": "Schizophrenia|Patient", "v": 0.95, "j": 0.19},
      {"g": "Schizophrenia|Patient", "v": 0.84, "j": -0.015},
      {"g": "Schizophrenia|Patient", "v": 0.56, "j": -0.2},
      {"g": "Schizophrenia|Patient", "v": 0.62, "j": 0.17},
      {"g": "Schizophrenia|Patient", "v": 0.4, "j": 0.06},
      {"g": "Schizophrenia|Patient", "v": 0.29, "j": -0.09},
      {"g": "Schizophrenia|Patient", "v": 0.01, "j": -0.2},
      {"g": "Schizophrenia|Patient", "v": -0.04, "j": 0.0},
      {"g": "Schizophrenia|Patient", "v": -0.15, "j": 0.17},
      {"g": "Schizophrenia|Patient", "v": -0.38, "j": -0.05},
      {"g": "Schizophrenia|Patient", "v": -0.54, "j": 0.1},
      {"g": "Schizophrenia|Patient", "v": -0.82, "j": -0.16},
      {"g": "Schizophrenia|Patient", "v": -0.6, "j": 0.19},
      {"g": "Schizophrenia|Patient", "v": -0.87, "j": 0.02},
      {"g": "Schizophrenia|Patient", "v": -1.2, "j": -0.18},
      {"g": "Schizophrenia|Patient", "v": -1.15, "j": 0.1},
      {"g": "Schizophrenia|Patient", "v": -1.48, "j": -0.12},
      {"g": "Schizophrenia|Patient", "v": -1.53, "j": 0.0},
      {"g": "Schizophrenia|Patient", "v": -1.59, "j": 0.15},
      {"g": "Schizophrenia|Patient", "v": -1.81, "j": -0.2},
      {"g": "Schizophrenia|Patient", "v": -1.98, "j": 0.1},
      {"g": "Schizophrenia|Patient", "v": -1.92, "j": 0.17},
      {"g": "Schizophrenia|Patient", "v": -2.69, "j": -0.1},
      {"g": "Schizophrenia|Patient", "v": 1.5, "j": 0.05},
      {"g": "Schizophrenia|Patient", "v": 1.3, "j": -0.15},
      {"g": "Schizophrenia|Patient", "v": 1.0, "j": 0.15},
      {"g": "Schizophrenia|Patient", "v": 0.7, "j": 0.0},
      {"g": "Schizophrenia|Patient", "v": 0.5, "j": 0.1},
      {"g": "Schizophrenia|Patient", "v": 0.3, "j": -0.15},
      {"g": "Schizophrenia|Patient", "v": 0.2, "j": 0.12},
      {"g": "Schizophrenia|Patient", "v": 0.1, "j": -0.05},
      {"g": "Schizophrenia|Patient", "v": 2.2, "j": 0.05},
      {"g": "Schizophrenia|Patient", "v": 2.6, "j": -0.1},
      {"g": "Schizophrenia|Patient", "v": 1.2, "j": -0.03},
      {"g": "Schizophrenia|Patient", "v": 0.9, "j": 0.08},
      {"g": "Schizophrenia|Patient", "v": 0.35, "j": 0.2},
      {"g": "Schizophrenia|Patient", "v": -0.3, "j": 0.15},
      {"g": "Schizophrenia|Patient", "v": 2.9, "j": 0.0},
      {"g": "Schizophrenia|Patient", "v": 3.0, "j": 0.14},
      {"g": "Schizophrenia|Patient", "v": -0.2, "j": -0.15},
      {"g": "Schizophrenia|Patient", "v": 0.6, "j": -0.08}
    ]
  },
  "hconcat": [
    {
      "width": 496,
      "height": 463,
      "resolve": {"axis": {"x": "independent", "y": "independent"}},
      "layer": [
        {
          "data": {"name": "roc"},
          "transform": [{"filter": "datum.dataset === 'MUC MDD'"}],
          "mark": {"type": "line", "strokeWidth": 6.5, "strokeJoin": "round", "strokeCap": "round"},
          "encoding": {
            "x": {"field": "specificity", "type": "quantitative", "scale": {"domain": [1.0173, -0.018], "nice": false, "zero": false},
                  "axis": {"values": [0, 0.25, 0.5, 0.75, 1], "format": ".2f", "title": "specificity", "grid": true, "titlePadding": 6, "labelFontSize": 22}},
            "y": {"field": "sensitivity", "type": "quantitative", "scale": {"domain": [-0.0055, 1.0155], "nice": false, "zero": false},
                  "axis": {"values": [0, 0.25, 0.5, 0.75, 1], "format": ".2f", "title": "sensitivity", "grid": true, "titlePadding": 9}},
            "color": {"field": "dataset", "type": "nominal",
                      "scale": {"domain": ["MUC MDD", "Münster MDD", "Schizophrenia"], "range": ["#999999", "#56B4E9", "#E69F00"]},
                      "legend": {"orient": "none", "legendX": -56, "legendY": -57, "direction": "horizontal", "title": null,
                                 "symbolType": "stroke", "symbolStrokeWidth": 8, "symbolSize": 1225, "labelFontSize": 17,
                                 "labelFontWeight": "bold", "labelColor": "#000000", "labelFont": "Liberation Sans",
                                 "columnPadding": -5, "labelOffset": 10, "symbolOpacity": 1}},
            "order": [{"field": "sensitivity", "sort": "ascending"}, {"field": "specificity", "sort": "descending"}]
          }
        },
        {
          "data": {"name": "roc"},
          "transform": [{"filter": "datum.dataset === 'Schizophrenia'"}],
          "mark": {"type": "line", "strokeWidth": 6.5, "strokeJoin": "round", "strokeCap": "round"},
          "encoding": {
            "x": {"field": "specificity", "type": "quantitative", "axis": null},
            "y": {"field": "sensitivity", "type": "quantitative", "axis": null},
            "color": {"field": "dataset", "type": "nominal"},
            "order": [{"field": "sensitivity", "sort": "ascending"}, {"field": "specificity", "sort": "descending"}]
          }
        },
        {
          "data": {"name": "roc"},
          "transform": [{"filter": "datum.dataset === 'Münster MDD'"}],
          "mark": {"type": "line", "strokeWidth": 6.5, "strokeJoin": "round", "strokeCap": "round"},
          "encoding": {
            "x": {"field": "specificity", "type": "quantitative", "axis": null},
            "y": {"field": "sensitivity", "type": "quantitative", "axis": null},
            "color": {"field": "dataset", "type": "nominal"},
            "order": [{"field": "sensitivity", "sort": "ascending"}, {"field": "specificity", "sort": "descending"}]
          }
        },
        {
          "data": {"values": [{"spec_a": 1, "sens_a": 0, "spec_b": 0, "sens_b": 1}]},
          "mark": {"type": "rule", "color": "#AAAAAA", "strokeWidth": 2.5, "strokeDash": [9, 6]},
          "encoding": {
            "x": {"field": "spec_a", "type": "quantitative",
                  "axis": {"orient": "bottom", "values": [0.125, 0.375, 0.625, 0.875], "labels": false, "ticks": false, "title": null, "grid": true, "gridWidth": 1, "gridColor": "#F0F0F0"}},
            "y": {"field": "sens_a", "type": "quantitative",
                  "axis": {"orient": "left", "values": [0.125, 0.375, 0.625, 0.875], "labels": false, "ticks": false, "title": null, "grid": true, "gridWidth": 1, "gridColor": "#F0F0F0"}},
            "x2": {"field": "spec_b"},
            "y2": {"field": "sens_b"}
          }
        }
      ]
    },
    {
      "width": 561,
      "height": 471,
      "resolve": {"axis": {"y": "independent"}},
      "layer": [
        {
          "data": {"name": "boxes"},
          "mark": {"type": "rule", "color": "#333333", "strokeWidth": 2},
          "encoding": {
            "x": {"field": "g", "type": "nominal",
                  "scale": {"type": "band", "domain": ["MUC MDD|Control", "MUC MDD|Patient", "Münster MDD|Control", "Münster MDD|Patient", "Schizophrenia|Control", "Schizophrenia|Patient"], "paddingInner": 0, "paddingOuter": 0.082},
                  "axis": {"title": null, "labelExpr": "split(datum.value, '|')[1]", "grid": true, "bandPosition": 0.5, "labelAngle": 0, "labelPadding": 8, "labelFontSize": 23.5}},
            "y": {"field": "lo", "type": "quantitative", "scale": {"domain": [-5.21, 10.38], "nice": false, "zero": false},
                  "axis": {"values": [-5, 0, 5, 10], "title": "SVM decision score", "grid": true, "titlePadding": 10}},
            "y2": {"field": "hi"}
          }
        },
        {
          "data": {"name": "boxes"},
          "mark": {"type": "bar", "stroke": "#333333", "strokeWidth": 2, "width": 69},
          "encoding": {
            "x": {"field": "g", "type": "nominal"},
            "y": {"field": "q1", "type": "quantitative", "axis": null},
            "y2": {"field": "q3"},
            "fill": {"field": "dataset", "type": "nominal", "legend": null,
                     "scale": {"domain": ["MUC MDD", "Münster MDD", "Schizophrenia"], "range": ["#999999", "#56B4E9", "#E69F00"]}}
          }
        },
        {
          "data": {"name": "boxes"},
          "mark": {"type": "tick", "color": "#333333", "orient": "horizontal", "size": 68, "thickness": 3.5, "opacity": 1},
          "encoding": {
            "x": {"field": "g", "type": "nominal"},
            "y": {"field": "med", "type": "quantitative", "axis": null}
          }
        },
        {
          "data": {"values": [{"ref": 0}]},
          "mark": {"type": "rule", "color": "#000000", "strokeWidth": 2, "strokeDash": [9, 6]},
          "encoding": {
            "y": {"field": "ref", "type": "quantitative",
                  "axis": {"orient": "left", "values": [-2.5, 2.5, 7.5], "labels": false, "ticks": false, "title": null, "grid": true, "gridWidth": 1, "gridColor": "#F0F0F0"}}
          }
        },
        {
          "data": {"name": "outliers"},
          "mark": {"type": "circle", "color": "#333333", "size": 85, "opacity": 1},
          "encoding": {
            "x": {"field": "g", "type": "nominal"},
            "y": {"field": "v", "type": "quantitative", "axis": null}
          }
        },
        {
          "data": {"name": "points"},
          "mark": {"type": "circle", "color": "#000000", "size": 85, "opacity": 1},
          "encoding": {
            "x": {"field": "g", "type": "nominal"},
            "xOffset": {"field": "j", "type": "quantitative", "scale": {"domain": [-0.5, 0.5]}},
            "y": {"field": "v", "type": "quantitative", "axis": null}
          }
        }
      ]
    }
  ]
}
